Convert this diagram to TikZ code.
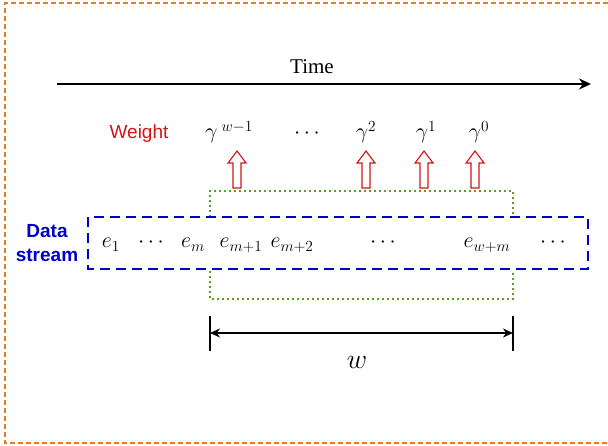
\RequirePackage{fix-cm}
\documentclass[tikz,border=0pt]{standalone}
\usepackage{fontspec}
\newfontfamily\arialf{Liberation Sans}
\newfontfamily\timesf{Liberation Serif}
\usetikzlibrary{arrows.meta}
\definecolor{frameorange}{RGB}{225,125,35}
\definecolor{greendot}{RGB}{90,160,30}
\definecolor{bluedash}{RGB}{0,0,205}
\definecolor{wred}{RGB}{210,20,20}
\tikzset{
  mathlbl/.style={inner sep=0pt, font=\fontsize{22}{26}\selectfont},
  frameline/.style={draw=frameorange, line width=1.1pt, dash pattern=on 5pt off 3pt},
  greenbox/.style={draw=greendot, line width=1.8pt, dash pattern=on 1.8pt off 3.2pt},
  bluebox/.style={draw=bluedash, line width=2.6pt, dash pattern=on 10pt off 6pt},
  hollowarrow/.style={draw=wred, line width=1.1pt, fill=white},
}
\begin{document}
\begin{tikzpicture}[x=1pt,y=-1pt]
\useasboundingbox (0,0) rectangle (608,446);
% frame (open on the right)
\draw[frameline] (608,3) -- (5,3) -- (5,443) -- (608,443);
% time arrow
\coordinate (t0) at (57,84);
\coordinate (t1) at (591,84);
\draw[line width=2.4pt, -{Stealth[length=12pt,width=11pt]}] (t0) -- (t1);
\node[font=\timesf\fontsize{21}{24}\selectfont, inner sep=0pt, anchor=base] (time) at (312,74) {Time};
% weights
\node[font=\arialf\fontsize{19}{22}\selectfont, text=wred, inner sep=0pt, anchor=base] (weight) at (139,139) {Weight};
\node[mathlbl, anchor=base] (g0) at (229,139) {$\gamma^{\;w-1}$};
\node[mathlbl, anchor=base] (gd) at (307,139) {$\cdots$};
\node[mathlbl, anchor=base] (g2) at (366,139) {$\gamma^{2}$};
\node[mathlbl, anchor=base] (g3) at (426,139) {$\gamma^{1}$};
\node[mathlbl, anchor=base] (g4) at (479,139) {$\gamma^{0}$};
% hollow arrows
\foreach \c in {237,366,424,475}{
  \draw[hollowarrow] (\c-4,188) -- (\c-4,163) -- (\c-9,163) -- (\c,151) -- (\c+9,163) -- (\c+4,163) -- (\c+4,188) -- cycle;
}
% window boxes
\draw[greenbox] (210,217) -- (210,191) -- (513,191) -- (513,217);
\draw[greenbox] (210,271) -- (210,299) -- (513,299) -- (513,271);
% data stream box
\draw[bluebox] (88,217) rectangle (588,269);
\node[font=\arialf\bfseries\fontsize{19}{24}\selectfont, text=bluedash, align=center, inner sep=0pt] (ds) at (47,243) {Data\\stream};
% elements
\node[mathlbl, anchor=base] (e1) at (111,248) {$e_1$};
\node[mathlbl, anchor=base] (ed1) at (151,248) {$\cdots$};
\node[mathlbl, anchor=base] (em) at (193,248) {$e_m$};
\node[mathlbl, anchor=base] (em1) at (241,248) {$e_{m+1}$};
\node[mathlbl, anchor=base] (em2) at (292,248) {$e_{m+2}$};
\node[mathlbl, anchor=base] (ed2) at (383,248) {$\cdots$};
\node[mathlbl, anchor=base] (ewm) at (487,248) {$e_{w+m}$};
\node[mathlbl, anchor=base] (ed3) at (553,248) {$\cdots$};
% window width
\coordinate (b1t) at (210,316); \coordinate (b1b) at (210,351);
\coordinate (b2t) at (513,316); \coordinate (b2b) at (513,351);
\coordinate (a1) at (210,333); \coordinate (a2) at (513,333);
\draw[line width=1.8pt] (b1t) -- (b1b);
\draw[line width=1.8pt] (b2t) -- (b2b);
\draw[line width=1.8pt, {Stealth[length=10pt,width=9pt]}-{Stealth[length=10pt,width=9pt]}] (a1) -- (a2);
\node[inner sep=0pt, font=\fontsize{28}{30}\selectfont] (wl) at (357,362) {$w$};
\end{tikzpicture}
\end{document}
